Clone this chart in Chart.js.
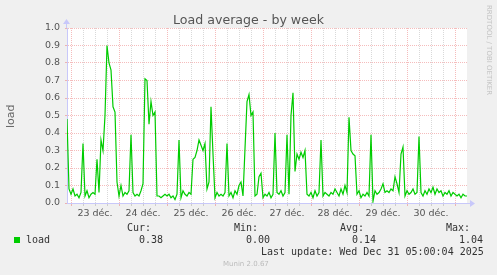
<!DOCTYPE html>
<html>
<head>
<meta charset="utf-8">
<script src="https://cdn.jsdelivr.net/npm/chart.js@4.4.1/dist/chart.umd.min.js"></script>
<style>
  html, body { margin: 0; padding: 0; background: #f0f0f0; }
  #wrap { position: relative; width: 497px; height: 275px; overflow: hidden; }
  #chart { position: absolute; left: 0; top: 0; }
  .t { position: absolute; white-space: pre; line-height: 1; color: #555; font-family: 'DejaVu Sans', sans-serif; font-weight: normal; }
  .mono { font-family: 'DejaVu Sans Mono', monospace; font-size: 10px; color: #333; }
</style>
</head>
<body>
<div id="wrap">
  <canvas id="chart" width="497" height="275"></canvas>
  <div class="t" style="left:0; width:497px; text-align:center; top:14px; font-size:12.6px;">Load average - by week</div>
  <div class="t" style="left:5px; top:128px; font-size:11px; color:#666; transform:rotate(-90deg); transform-origin:0 0;">load</div>
  <div class="t" style="left:492px; top:5px; font-size:7px; color:#c4c4c4; transform:rotate(90deg); transform-origin:0 0;">RRDTOOL / TOBI OETIKER</div>

  <div class="t mono" style="left:127px; top:222.5px;">Cur:</div>
  <div class="t mono" style="left:234px; top:222.5px;">Min:</div>
  <div class="t mono" style="left:340px; top:222.5px;">Avg:</div>
  <div class="t mono" style="left:446px; top:222.5px;">Max:</div>

  <div style="position:absolute; left:14px; top:237px; width:6px; height:6px; background:#00cc00;"></div>
  <div class="t mono" style="left:26px; top:234.5px;">load</div>
  <div class="t mono" style="left:139px; top:234.5px;">0.38</div>
  <div class="t mono" style="left:246px; top:234.5px;">0.00</div>
  <div class="t mono" style="left:352px; top:234.5px;">0.14</div>
  <div class="t mono" style="left:459px; top:234.5px;">1.04</div>

  <div class="t mono" style="left:261px; top:246.5px;">Last update: Wed Dec 31 05:00:04 2025</div>
  <div class="t" style="left:223px; top:261px; font-size:7px; color:#bbb;">Munin 2.0.67</div>
</div>

<script>
// --- DATA ---
// hourly load samples, starting Dec 22 22:00
const loadValues = [
  0.48, 0.08, 0.05, 0.08, 0.04, 0.05, 0.03, 0.06, 0.34, 0.04,
  0.07, 0.03, 0.05, 0.06, 0.05, 0.25, 0.06, 0.36, 0.30, 0.50,
  0.90, 0.80, 0.76, 0.55, 0.52, 0.12, 0.04, 0.10, 0.04, 0.06,
  0.05, 0.07, 0.39, 0.06, 0.04, 0.05, 0.04, 0.07, 0.11, 0.71,
  0.70, 0.45, 0.58, 0.50, 0.52, 0.04, 0.04, 0.03, 0.04, 0.05,
  0.04, 0.05, 0.03, 0.04, 0.02, 0.05, 0.36, 0.03, 0.07, 0.05,
  0.04, 0.06, 0.05, 0.25, 0.26, 0.30, 0.36, 0.33, 0.30, 0.34,
  0.08, 0.12, 0.55, 0.28, 0.03, 0.06, 0.04, 0.05, 0.04, 0.06,
  0.34, 0.04, 0.06, 0.03, 0.07, 0.05, 0.10, 0.12, 0.04, 0.31,
  0.58, 0.62, 0.50, 0.52, 0.04, 0.05, 0.15, 0.17, 0.03, 0.05,
  0.04, 0.06, 0.03, 0.05, 0.40, 0.06, 0.05, 0.07, 0.04, 0.06,
  0.39, 0.05, 0.50, 0.63, 0.18, 0.28, 0.25, 0.29, 0.26, 0.30,
  0.05, 0.04, 0.06, 0.03, 0.07, 0.04, 0.06, 0.36, 0.04, 0.06,
  0.05, 0.04, 0.06, 0.05, 0.08, 0.06, 0.04, 0.08, 0.05, 0.10,
  0.06, 0.49, 0.30, 0.28, 0.27, 0.05, 0.07, 0.03, 0.05, 0.04,
  0.06, 0.04, 0.39, 0.01, 0.07, 0.05, 0.06, 0.08, 0.11, 0.06,
  0.07, 0.06, 0.08, 0.07, 0.15, 0.11, 0.06, 0.28, 0.32, 0.04,
  0.07, 0.05, 0.06, 0.08, 0.05, 0.06, 0.38, 0.06, 0.04, 0.07,
  0.05, 0.08, 0.06, 0.09, 0.05, 0.08, 0.06, 0.07, 0.04, 0.06,
  0.05, 0.07, 0.04, 0.06, 0.05, 0.04, 0.05, 0.03, 0.05, 0.04,
  0.04
];

// day labels, one per day, shown at noon
const dayLabels = ['23 déc.', '24 déc.', '25 déc.', '26 déc.', '27 déc.', '28 déc.', '29 déc.', '30 déc.'];
const firstMidnight = 2;   // hours after start
const totalHours = 200;

// --- CHART ---
const RED_GRID = 'rgba(230,80,80,0.38)';
const GREY_GRID = 'rgba(0,0,0,0.15)';
const AXIS = 'rgb(200,200,250)';

const tickHours = [];
for (let h = firstMidnight; h < totalHours; h += 6) tickHours.push(h);

const isMidnight = v => (v - firstMidnight) % 24 === 0;
const isNoon = v => (v - firstMidnight - 12) % 24 === 0;

const frame = {
  id: 'frame',
  beforeDraw(chart) {
    const { ctx, chartArea: a } = chart;
    ctx.save();
    ctx.fillStyle = '#ffffff';
    ctx.fillRect(a.left, a.top, a.right - a.left, a.bottom - a.top);
    ctx.restore();
  },
  afterDraw(chart) {
    const { ctx, chartArea: a } = chart;
    ctx.save();
    ctx.strokeStyle = AXIS;
    ctx.fillStyle = AXIS;
    ctx.lineWidth = 1;
    // y axis extension + arrow
    ctx.beginPath();
    ctx.moveTo(a.left - 0.5, a.top);
    ctx.lineTo(a.left - 0.5, a.top - 5);
    ctx.stroke();
    ctx.beginPath();
    ctx.moveTo(a.left - 4, a.top - 4);
    ctx.lineTo(a.left + 3, a.top - 4);
    ctx.lineTo(a.left - 0.5, a.top - 9);
    ctx.fill();
    // x axis extension + arrow
    ctx.beginPath();
    ctx.moveTo(a.right, a.bottom + 0.5);
    ctx.lineTo(a.right + 4, a.bottom + 0.5);
    ctx.stroke();
    ctx.beginPath();
    ctx.moveTo(a.right + 3, a.bottom - 3);
    ctx.lineTo(a.right + 3, a.bottom + 4);
    ctx.lineTo(a.right + 8, a.bottom + 0.5);
    ctx.fill();
    ctx.restore();
  }
};

Chart.defaults.font.family = "'DejaVu Sans', sans-serif";
Chart.defaults.font.size = 9.5;
Chart.defaults.color = '#555';

new Chart(document.getElementById('chart'), {
  type: 'line',
  data: {
    datasets: [{
      label: 'load',
      data: loadValues.map((v, i) => ({ x: i, y: v })),
      borderColor: '#00cc00',
      borderWidth: 1.2,
      pointRadius: 0,
      tension: 0,
      fill: false
    }]
  },
  options: {
    responsive: false,
    animation: false,
    devicePixelRatio: 1,
    layout: { padding: { left: 0, right: 30, top: 28, bottom: 0 } },
    plugins: { legend: { display: false }, tooltip: { enabled: false }, title: { display: false } },
    scales: {
      x: {
        type: 'linear',
        min: 0,
        max: totalHours,
        afterFit: s => { s.height = 72; },
        afterBuildTicks: s => { s.ticks = tickHours.map(v => ({ value: v })); },
        ticks: {
          autoSkip: false,
          maxRotation: 0,
          padding: 2,
          callback: v => isNoon(v) ? dayLabels[(v - firstMidnight - 12) / 24] : ''
        },
        grid: {
          color: c => isMidnight(c.tick.value) ? RED_GRID : GREY_GRID,
          tickColor: c => isMidnight(c.tick.value) ? RED_GRID : GREY_GRID,
          tickLength: 3,
          lineWidth: 1
        },
        border: { color: AXIS, width: 1, dash: [1, 1] }
      },
      y: {
        min: 0,
        max: 1,
        afterFit: s => { s.width = 67; },
        ticks: {
          stepSize: 0.05,
          padding: 5,
          callback: v => Math.round(v * 100) % 10 === 0 ? v.toFixed(1) : ''
        },
        grid: {
          color: c => Math.round(c.tick.value * 100) % 10 === 0 ? RED_GRID : GREY_GRID,
          tickColor: c => Math.round(c.tick.value * 100) % 10 === 0 ? RED_GRID : 'rgba(0,0,0,0)',
          tickLength: 2,
          lineWidth: 1
        },
        border: { color: AXIS, width: 1, dash: [1, 1] }
      }
    }
  },
  plugins: [frame]
});
</script>
</body>
</html>
